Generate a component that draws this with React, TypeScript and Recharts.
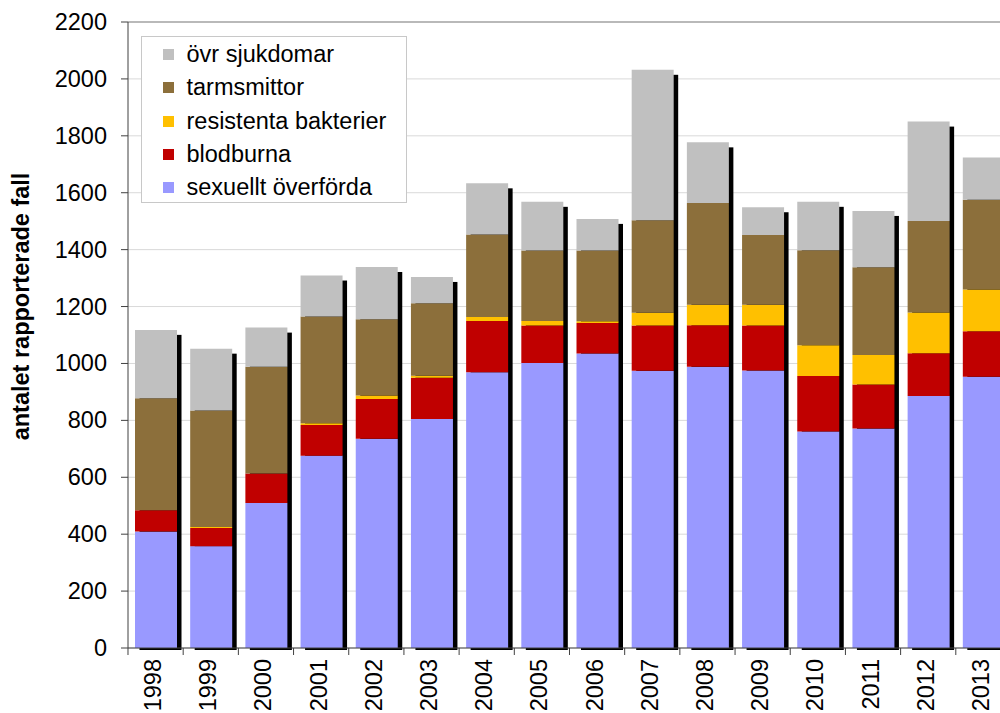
import React from 'react';
import { BarChart, Bar, XAxis, YAxis, CartesianGrid, Legend, ReferenceLine } from 'recharts';

const years = ['1998', '1999', '2000', '2001', '2002', '2003', '2004', '2005', '2006', '2007', '2008', '2009', '2010', '2011', '2012', '2013'];
const sexuellt = [409, 358, 510, 676, 735, 805, 969, 1002, 1035, 974, 988, 975, 761, 771, 886, 953];
const blodburna = [75, 64, 103, 108, 140, 145, 180, 131, 107, 159, 146, 158, 195, 155, 150, 160];
const resistenta = [0, 3, 0, 6, 12, 7, 14, 16, 6, 45, 72, 73, 108, 104, 143, 147];
const tarmsmittor = [394, 410, 375, 375, 268, 255, 290, 248, 249, 325, 358, 245, 334, 308, 322, 315];
const ovrSjukdomar = [240, 217, 138, 144, 184, 92, 180, 171, 111, 529, 213, 98, 170, 198, 349, 149];
const yTicks = [0, 200, 400, 600, 800, 1000, 1200, 1400, 1600, 1800, 2000, 2200];

// stacking order, bottom first
const series = [
  { key: 'sexuellt', name: 'sexuellt överförda', color: '#9999ff' },
  { key: 'blodburna', name: 'blodburna', color: '#c00000' },
  { key: 'resistenta', name: 'resistenta bakterier', color: '#ffc000' },
  { key: 'tarmsmittor', name: 'tarmsmittor', color: '#8c6f3b' },
  { key: 'ovr', name: 'övr sjukdomar', color: '#c0c0c0' },
];

const data = years.map((year, i) => ({
  year,
  sexuellt: sexuellt[i],
  blodburna: blodburna[i],
  resistenta: resistenta[i],
  tarmsmittor: tarmsmittor[i],
  ovr: ovrSjukdomar[i],
}));

const FONT = '"Liberation Sans", Arial, sans-serif';
const FS = 23.5;

// bottom segment also paints the drop shadow of the whole stack
const ShadowBar = (props: any) => {
  const { x, y, width, height, payload, fill } = props;
  if (!height || !payload) return null;
  const total = series.reduce((s, d) => s + payload[d.key], 0);
  const ppu = height / payload.sexuellt;
  const totalPx = total * ppu;
  const top = y + height - totalPx;
  return (
    <g>
      <rect x={x + 4.5} y={top + 5} width={width} height={totalPx - 3} fill="#000" />
      <rect x={x} y={y} width={width} height={height} fill={fill} />
    </g>
  );
};

const YTick = (props: any) => {
  const { y, payload } = props;
  return (
    <text x={107} y={y} textAnchor="end" dominantBaseline="central" fontSize={FS} fontFamily={FONT} fill="#000">
      {payload.value}
    </text>
  );
};

const XTick = (props: any) => {
  const { x, y, payload } = props;
  const half = 55.2 / 2;
  return (
    <g>
      <line x1={x - half} x2={x - half} y1={y} y2={y + 7} stroke="#404040" />
      <text
        transform={`translate(${x + 5.5},${y + 11}) rotate(-90)`}
        textAnchor="end"
        fontSize={FS}
        fontFamily={FONT}
        fill="#000"
      >
        {payload.value}
      </text>
    </g>
  );
};

const LegendBox = () => (
  <div
    style={{
      width: 264,
      height: 165,
      border: '1px solid #c8c8c8',
      background: '#fff',
      fontFamily: FONT,
      fontSize: FS,
      color: '#000',
      position: 'relative',
    }}
  >
    {[...series].reverse().map((s, i) => (
      <div
        key={s.key}
        style={{ position: 'absolute', left: 21, top: 17.3 + i * 33.35 - 16, height: 32, display: 'flex', alignItems: 'center' }}
      >
        <span style={{ display: 'inline-block', width: 11, height: 11, background: s.color, marginRight: 13 }} />
        <span style={{ whiteSpace: 'nowrap' }}>{s.name}</span>
      </div>
    ))}
  </div>
);

const YTitle = () => (
  <text
    transform="translate(28.5,306.5) rotate(-90)"
    textAnchor="middle"
    fontSize={FS}
    fontWeight="bold"
    fontFamily={FONT}
    fill="#000"
  >
    antalet rapporterade fall
  </text>
);

export default function App() {
  return (
    <div style={{ position: 'fixed', left: 0, top: 0, width: 1000, height: 713, overflow: 'hidden', background: '#fff' }}>
      <BarChart
        width={1020}
        height={713}
        data={data}
        margin={{ top: 22, right: 9, left: 0, bottom: 0 }}
        barSize={42}
      >
        <CartesianGrid vertical={false} stroke="#d9d9d9" />
        <ReferenceLine y={2200} stroke="#868686" />
        <XAxis
          dataKey="year"
          height={65}
          interval={0}
          axisLine={{ stroke: '#404040' }}
          tickLine={false}
          tickSize={0}
          tickMargin={0}
          tick={<XTick />}
        />
        <YAxis
          width={128}
          domain={[0, 2200]}
          ticks={yTicks}
          interval={0}
          axisLine={{ stroke: '#404040' }}
          tickLine={{ stroke: '#404040' }}
          tickSize={7}
          tick={<YTick />}
          label={<YTitle />}
        />
        <Legend
          layout="vertical"
          align="center"
          verticalAlign="middle"
          content={<LegendBox />}
          wrapperStyle={{ left: 140.5, top: 36, width: 266, height: 167 }}
        />
        {series.map((s, i) => (
          <Bar
            key={s.key}
            dataKey={s.key}
            name={s.name}
            stackId="a"
            fill={s.color}
            isAnimationActive={false}
            shape={i === 0 ? <ShadowBar /> : undefined}
          />
        ))}
      </BarChart>
    </div>
  );
}
